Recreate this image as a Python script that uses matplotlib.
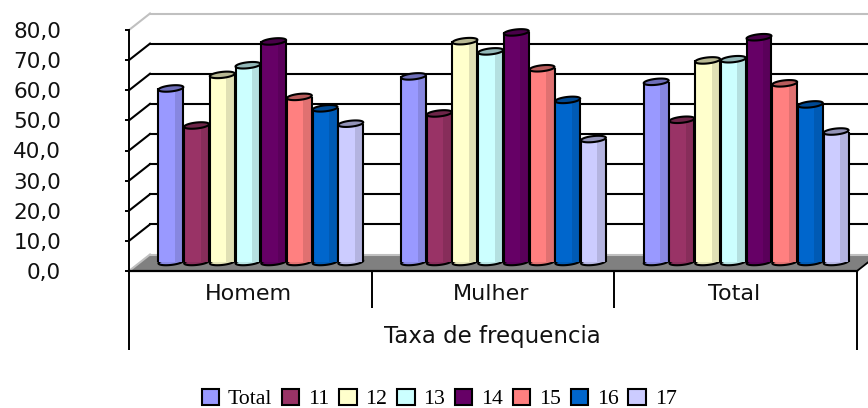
import numpy as np
from matplotlib import pyplot as plt
from matplotlib.patches import Patch, Polygon

groups = ["Homem", "Mulher", "Total"]
series_names = ["Total", "11", "12", "13", "14", "15", "16", "17"]
homem = [57.6, 45.3, 62.1, 65.3, 73.2, 54.8, 51.0, 45.9]
mulher = [61.6, 49.3, 73.3, 69.9, 76.2, 64.3, 53.8, 40.8]
total = [59.8, 47.2, 66.9, 67.3, 74.6, 59.3, 52.3, 43.3]
colors = ["#9999FF", "#993366", "#FFFFCC", "#CCFFFF", "#660066", "#FF8080", "#0066CC", "#CCCCFF"]
yticks = [0, 10, 20, 30, 40, 50, 60, 70, 80]

W, H = 868, 408
px_left, px_right, px_top, px_bottom = 129, 857, 30, 271
ux = (px_right - px_left) / 3.0   # px per category
uy = (px_bottom - px_top) / 80.0  # px per value unit
depth_x = 21 / ux
depth_y = 16.5 / uy
bar_w = 25.7 / ux
base = 3.0
shift = 10.5 / ux


def shade(col, f):
	c = np.array(plt.matplotlib.colors.to_rgb(col))
	return tuple(c * f)


def ellipse(cx, cy, w):
	t = np.linspace(0, 2 * np.pi, 50)
	px = (w * ux / 2) * np.cos(t)
	py = 3.0 * np.sin(t) + 1.3 * np.cos(t)
	return np.column_stack([cx + px / ux, cy + py / uy])


fig = plt.figure(figsize=(W / 100, H / 100), dpi=100)
ax = fig.add_axes([px_left / W, 1 - px_bottom / H, (px_right - px_left) / W, (px_bottom - px_top) / H])
ax.set_xlim(0, 3)
ax.set_ylim(0, 80)
ax.patch.set_visible(False)
for s in ["top", "right", "bottom"]:
	ax.spines[s].set_visible(False)
ax.spines["left"].set_linewidth(1.4)

# floor
ax.add_patch(Polygon([[0, 0], [depth_x, depth_y], [3 + depth_x, depth_y], [3, 0]], closed=True,
	facecolor="#808080", edgecolor="none", clip_on=False, zorder=1))

# back wall grid and depth lines
for v in yticks:
	c = "#C0C0C0" if v in (0, 80) else "black"
	ax.plot([depth_x, 3 + depth_x], [v + depth_y, v + depth_y], color=c, lw=1.5, clip_on=False, zorder=1.5)
	ax.plot([0, depth_x], [v, v + depth_y], color=c, lw=1.5, clip_on=False, zorder=1.5)
ax.plot([3, 3 + depth_x], [0, depth_y], color="black", lw=1.3, clip_on=False, zorder=1.5)

# bars
z = 2
for g, vals in enumerate([homem, mulher, total]):
	for i, v in enumerate(vals):
		cx = g + 0.5 + shift + (i - 3.5) * bar_w
		col = colors[i]
		w = bar_w * 0.97
		ax.add_patch(Polygon(ellipse(cx, base, w), closed=True, facecolor=shade(col, 0.9), edgecolor="black", lw=1.5,
			clip_on=False, zorder=z))
		ax.bar(cx, v, w, bottom=base, color=col, edgecolor="none", clip_on=False, zorder=z + 0.1)
		ax.bar(cx + w * 0.33, v, w * 0.34, bottom=base, color=shade(col, 0.88), edgecolor="none",
			clip_on=False, zorder=z + 0.2)
		ax.vlines([cx - w / 2, cx + w / 2], base, base + v, color="black", lw=1.5, clip_on=False, zorder=z + 0.3)
		ax.add_patch(Polygon(ellipse(cx, base + v, w), closed=True, facecolor=shade(col, 0.72), edgecolor="black",
			lw=1.5, clip_on=False, zorder=z + 0.4))
		z += 1

# front frame below the floor
zf = z + 1
ax.plot([0, 3], [0, 0], color="black", lw=1.6, clip_on=False, zorder=zf)
y_low = -(350 - px_bottom) / uy
y_sep = -(308 - px_bottom) / uy
ax.vlines([0, 3], y_low, 0, color="black", lw=1.4, clip_on=False, zorder=zf)
ax.vlines([1, 2], y_sep, 0, color="black", lw=1.4, clip_on=False, zorder=zf)

for g, name in enumerate(groups):
	ax.text(g + 0.5 - 2 / ux, -(294 - px_bottom) / uy, name, ha="center", va="center", fontsize=16, color="#111111")
ax.text(1.5 - 1 / ux, -(337 - px_bottom) / uy, "Taxa de frequencia", ha="center", va="center", fontsize=16.5,
	color="#111111")

ax.set_xticks([])
ax.set_yticks(yticks)
ax.yaxis.set_major_formatter(plt.FuncFormatter(lambda v, p: ("%.1f" % v).replace(".", ",")))
ax.tick_params(axis="y", length=3, width=1.4, pad=46, labelsize=15.5, labelcolor="#111111")

handles = [Patch(facecolor=c, edgecolor="black", lw=1.5) for c in colors]
fig.legend(handles, series_names, loc="center", bbox_to_anchor=(439 / W, 1 - 399 / H), ncol=8, frameon=False,
	prop={"family": "Liberation Serif", "size": 15.7}, handlelength=0.8, handleheight=0.8,
	handletextpad=0.4, columnspacing=0.45, borderpad=0)

fig.savefig("out.png", dpi=100)
